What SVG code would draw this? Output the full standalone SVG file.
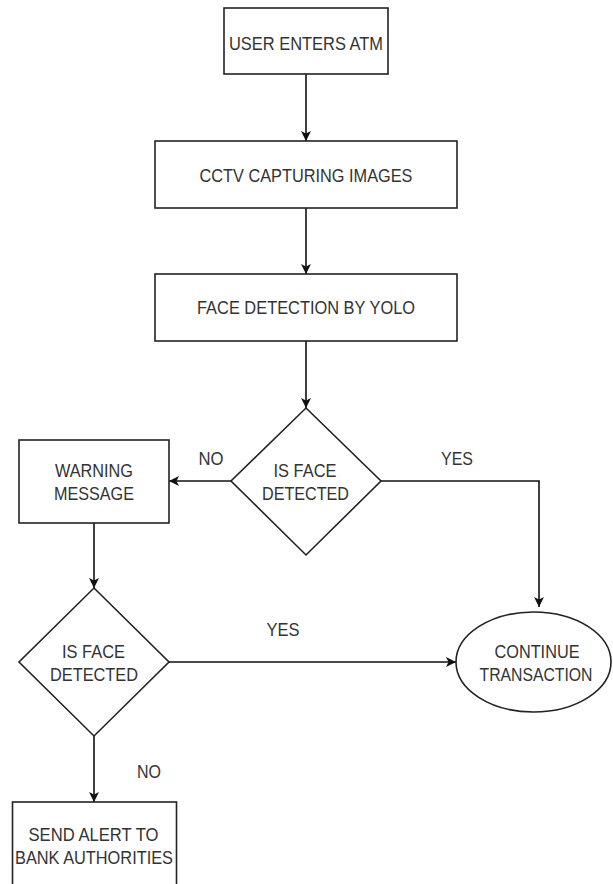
<svg xmlns="http://www.w3.org/2000/svg" width="613" height="884" viewBox="0 0 613 884">
<defs>
<style>
.s{fill:#fff;stroke:#222;stroke-width:1.6}
.c{fill:none;stroke:#111;stroke-width:1.6}
text{font-family:"Liberation Sans",Arial,sans-serif;font-size:19px;fill:#333;text-anchor:middle}
</style>
<marker id="a" viewBox="0 0 10 10" refX="10" refY="5" markerWidth="10" markerHeight="10" markerUnits="userSpaceOnUse" orient="auto">
<path d="M0,0 L10,5 L0,10 L2.5,5 Z" fill="#111"/>
</marker>
</defs>
<rect width="613" height="884" fill="#fff"/>
<g id="connectors">
<path class="c" d="M306,74 V141" marker-end="url(#a)"/>
<path class="c" d="M306,208 V274" marker-end="url(#a)"/>
<path class="c" d="M306,341 V408" marker-end="url(#a)"/>
<path class="c" d="M231,481 H169" marker-end="url(#a)"/>
<path class="c" d="M381,481 H539 V607" marker-end="url(#a)"/>
<path class="c" d="M94,523 V588" marker-end="url(#a)"/>
<path class="c" d="M169,662 H456" marker-end="url(#a)"/>
<path class="c" d="M94,736 V802" marker-end="url(#a)"/>
<text x="211" y="465" textLength="25" lengthAdjust="spacingAndGlyphs">NO</text>
<text x="457" y="465" textLength="32" lengthAdjust="spacingAndGlyphs">YES</text>
<text x="283" y="636" textLength="33" lengthAdjust="spacingAndGlyphs">YES</text>
<text x="149" y="778" textLength="24" lengthAdjust="spacingAndGlyphs">NO</text>
</g>
<g id="n1">
<rect class="s" x="224" y="8" width="164" height="66"/>
<text x="306" y="50" textLength="154" lengthAdjust="spacingAndGlyphs">USER ENTERS ATM</text>
</g>
<g id="n2">
<rect class="s" x="155" y="141" width="302" height="67"/>
<text x="306" y="182" textLength="213" lengthAdjust="spacingAndGlyphs">CCTV CAPTURING IMAGES</text>
</g>
<g id="n3">
<rect class="s" x="155" y="274" width="302" height="67"/>
<text x="306" y="314" textLength="218" lengthAdjust="spacingAndGlyphs">FACE DETECTION BY YOLO</text>
</g>
<g id="d1">
<path class="s" d="M306,408 L381,481 L306,555 L231,481 Z"/>
<text x="305" y="477" textLength="63" lengthAdjust="spacingAndGlyphs">IS FACE</text>
<text x="305.5" y="500" textLength="87" lengthAdjust="spacingAndGlyphs">DETECTED</text>
</g>
<g id="warn">
<rect class="s" x="19" y="440" width="150" height="83"/>
<text x="94" y="477" textLength="78" lengthAdjust="spacingAndGlyphs">WARNING</text>
<text x="94" y="500" textLength="80" lengthAdjust="spacingAndGlyphs">MESSAGE</text>
</g>
<g id="d2">
<path class="s" d="M94,588 L169,662 L94,736 L19,662 Z"/>
<text x="93.5" y="658" textLength="63" lengthAdjust="spacingAndGlyphs">IS FACE</text>
<text x="94" y="681" textLength="88" lengthAdjust="spacingAndGlyphs">DETECTED</text>
</g>
<g id="cont">
<ellipse class="s" cx="533.5" cy="662" rx="77.5" ry="50"/>
<text x="537" y="658" textLength="85" lengthAdjust="spacingAndGlyphs">CONTINUE</text>
<text x="536" y="681" textLength="113" lengthAdjust="spacingAndGlyphs">TRANSACTION</text>
</g>
<g id="alert">
<rect class="s" x="12.5" y="802" width="164" height="100"/>
<text x="93.5" y="841" textLength="130" lengthAdjust="spacingAndGlyphs">SEND ALERT TO</text>
<text x="94" y="864" textLength="158" lengthAdjust="spacingAndGlyphs">BANK AUTHORITIES</text>
</g>
</svg>
